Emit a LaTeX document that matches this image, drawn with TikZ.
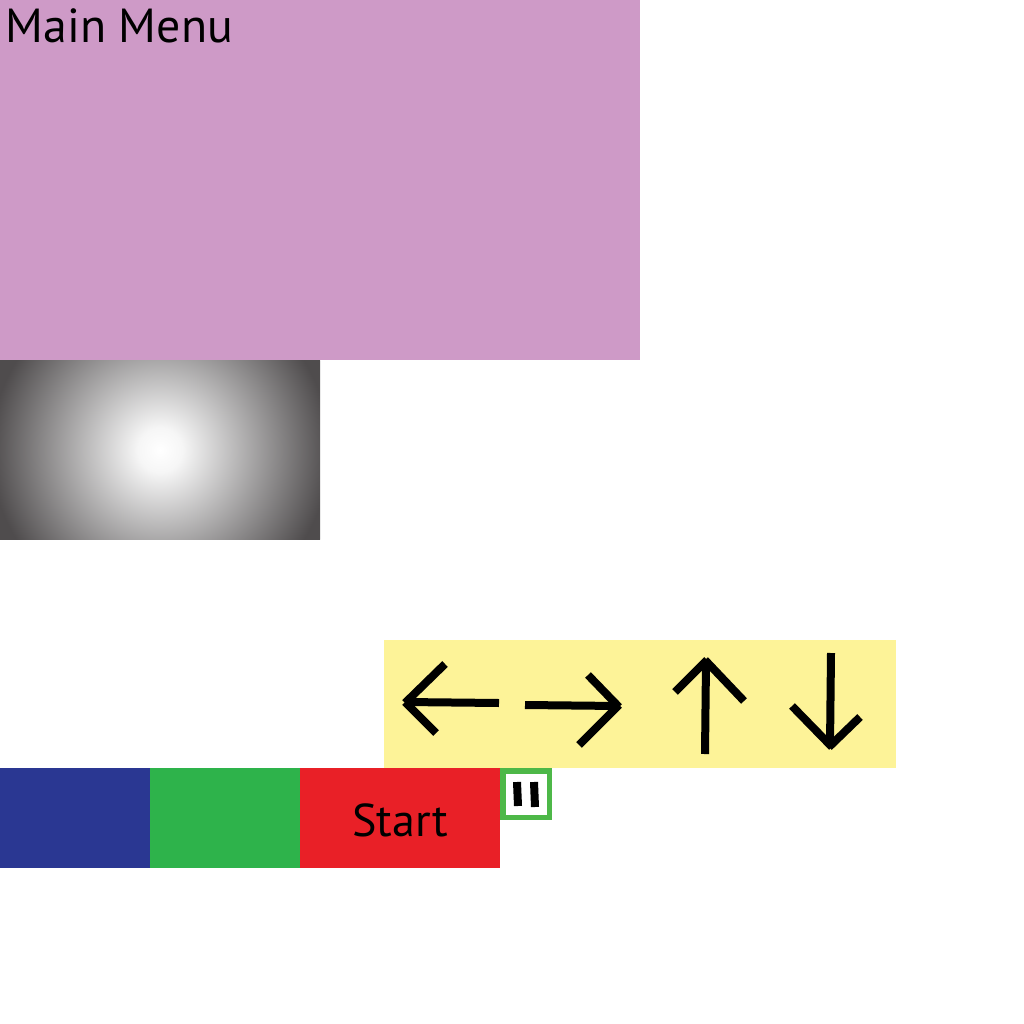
\documentclass[tikz,border=0pt]{standalone}
\usepackage{fontspec}
\setmainfont{PT Sans}
\usetikzlibrary{positioning}
\definecolor{menupink}{HTML}{CE9AC7}
\definecolor{padyellow}{HTML}{FDF398}
\definecolor{btnblue}{HTML}{2A3792}
\definecolor{btngreen}{HTML}{2EB34B}
\definecolor{btnred}{HTML}{E92027}
\definecolor{pausegreen}{HTML}{4DB848}
\definecolor{glowedge}{HTML}{4F4C4D}
\definecolor{glowmid}{HTML}{F6F6F6}
\pgfdeclareradialshading{glow}{\pgfpoint{0bp}{0bp}}{color(0bp)=(white); color(3bp)=(glowmid); color(23bp)=(glowedge); color(50bp)=(glowedge)}

\begin{document}
\begin{tikzpicture}[x=0.1mm, y=-0.1mm,
    panel/.style={inner sep=0pt, outer sep=0pt, anchor=north west},
    stroke/.style={line width=0.8mm, black},
    label/.style={font=\fontsize{13.6pt}{16pt}\selectfont, text=black},
    ]

    \useasboundingbox (0,0) rectangle (1024,1024);

    \node[panel, fill=menupink, minimum width=6.4cm, minimum height=3.6cm] (menu) at (0,0) {};
    \node[label, anchor=west, inner sep=0pt] (title) at (5,26) {Main Menu};

    % glow sits under the menu
    \begin{scope}
        \clip (0,360) rectangle (320,539.7);
        \shade[shading=glow] (160,450) circle (1.84cm);
    \end{scope}

    \node[panel, fill=padyellow, minimum width=5.12cm, minimum height=1.28cm] (pad) at (384,640) {};

    \node[panel, fill=btnblue, minimum width=1.5cm, minimum height=1cm] (blue) at (0,768) {};
    \node[panel, fill=btngreen, minimum width=1.5cm, minimum height=1cm, right=0pt of blue] (green) {};
    \node[panel, fill=btnred, minimum width=2cm, minimum height=1cm, right=0pt of green] (start) {};
    \node[label, font=\fontsize{13.1pt}{16pt}\selectfont] (starttext) at (400,820) {Start};
    \node[panel, fill=white, draw=pausegreen, line width=0.55mm, minimum size=4.65mm] (pause) at (502.75,770.75) {};

    % left
    \draw[stroke] (499,703) -- (405,702);
    \draw[stroke] (445,664) -- (405,703);
    \draw[stroke] (436,733) -- (405,702);
    % right
    \draw[stroke] (525,705) -- (619,706);
    \draw[stroke] (588,675) -- (619,707);
    \draw[stroke] (579,745) -- (619,705);
    % up
    \draw[stroke] (705,754) -- (706,662);
    \draw[stroke] (675,692) -- (707,660);
    \draw[stroke] (744,701) -- (705,660);
    % down
    \draw[stroke] (831,653) -- (830,746);
    \draw[stroke] (792,706) -- (832,747);
    \draw[stroke] (860,717) -- (829,747);
    % pause bars
    \draw[stroke] (517,782) -- (518,806);
    \draw[stroke] (534,782) -- (535,807);
\end{tikzpicture}
\end{document}
